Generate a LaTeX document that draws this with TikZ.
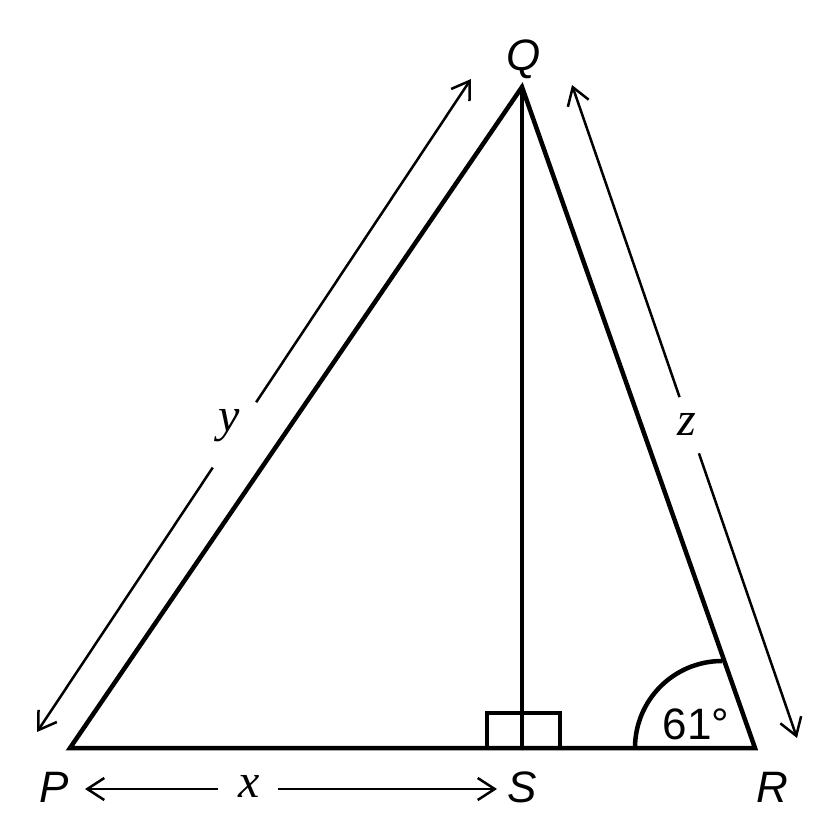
\documentclass[tikz,border=0pt]{standalone}
\usepackage{fontspec}
\setmainfont{Liberation Sans}
\newfontfamily\varfont{Liberation Serif}
\usetikzlibrary{arrows.meta,calc}
\begin{document}
\begin{tikzpicture}[x=1pt,y=-1pt,
  side/.style={line width=4.5pt,line join=miter,line cap=round},
  dimarrow/.style={line width=2.5pt,-{Straight Barb[length=17pt,width=22pt,line width=2.5pt]}},
  vlabel/.style={inner sep=0pt,font=\fontsize{44}{44}\selectfont\itshape},
  varlabel/.style={inner sep=0pt,font=\fontsize{48}{48}\selectfont\varfont\itshape},
  anglabel/.style={inner sep=0pt,font=\fontsize{44}{44}\selectfont}]
\useasboundingbox (0,0) rectangle (834,838);
% vertices
\coordinate (P) at (70,748);
\coordinate (Q) at (522,87);
\coordinate (R) at (755,748);
\coordinate (S) at (522,748);
% triangle and altitude
\draw[side] (P) -- (Q) -- (R) -- cycle;
\draw[side] (Q) -- (S);
% right angle box
\draw[side,line cap=butt] (487,748) -- (487,713) -- (560,713) -- (560,748);
% angle arc
\coordinate (arcstart) at (635,748);
\draw[side,line cap=butt] (arcstart) arc[start angle=180,end angle=270,radius=87];
\node[anglabel] (ang) at (696,724) {61°};
% vertex labels
\node[vlabel] (Pl) at (54,787) {P};
\node[vlabel] (Ql) at (524,59) {Q};
\node[vlabel] (Rl) at (772,787) {R};
\node[vlabel] (Sl) at (522,787) {S};
% side y
\coordinate (yA) at (37,732);
\coordinate (yB) at (471,79);
\node[varlabel] (yl) at (229,426) {y};
\draw[dimarrow] ($(yA)!0.405!(yB)$) -- (yA);
\draw[dimarrow] ($(yA)!0.505!(yB)$) -- (yB);
% side z
\coordinate (zA) at (572,85);
\coordinate (zB) at (797,738);
\node[varlabel] (zl) at (687,424) {z};
\draw[dimarrow] ($(zA)!0.478!(zB)$) -- (zA);
\draw[dimarrow] ($(zA)!0.564!(zB)$) -- (zB);
% side x
\coordinate (xA) at (85,789);
\coordinate (xB) at (497,789);
\node[varlabel] (xl) at (249,786) {x};
\draw[dimarrow] (218,789) -- (xA);
\draw[dimarrow] (278,789) -- (xB);
\end{tikzpicture}
\end{document}
